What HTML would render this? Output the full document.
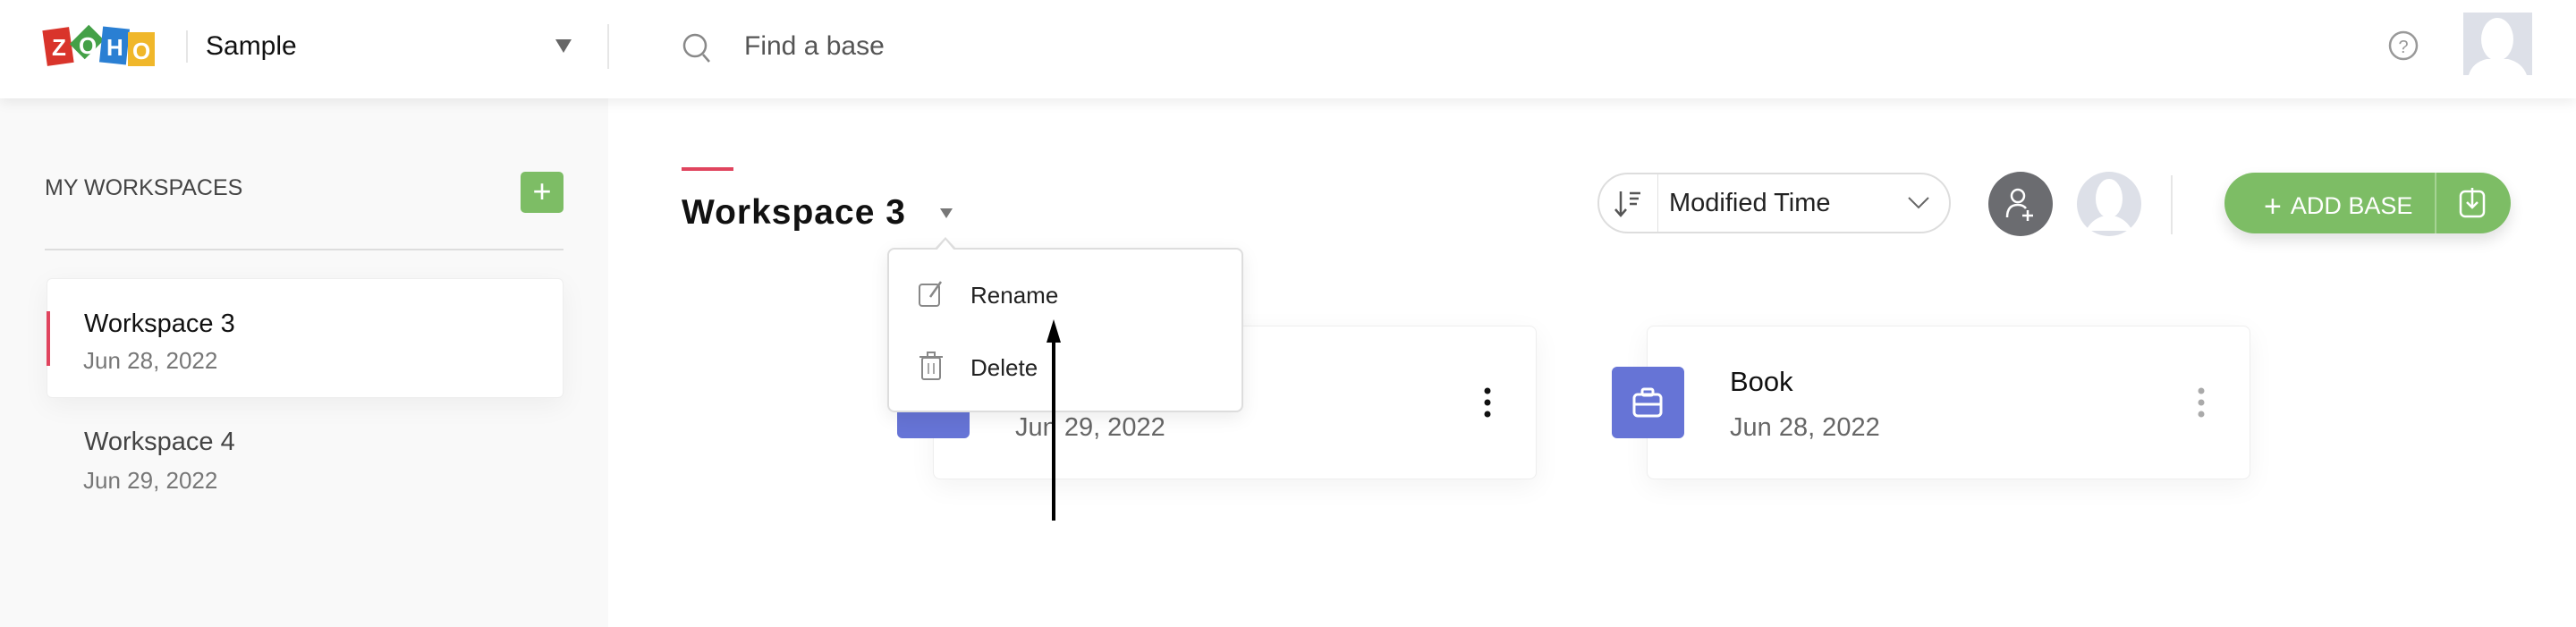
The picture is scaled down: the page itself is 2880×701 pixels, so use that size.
<!DOCTYPE html>
<html><head><meta charset="utf-8"><style>
*{margin:0;padding:0;box-sizing:border-box}
body{width:2880px;height:701px;overflow:hidden;background:#fff;font-family:"Liberation Sans",sans-serif;position:relative}
.a{position:absolute}
.hdr{left:0;top:0;width:2880px;height:110px;background:#fff;box-shadow:0 4px 14px rgba(0,0,0,.08);z-index:5}
.side{left:0;top:110px;width:680px;height:591px;background:#f9f9f9}
.card{background:#fff;border:1px solid #eee;border-radius:8px;box-shadow:0 8px 30px rgba(0,0,0,.05)}
.t{white-space:nowrap;line-height:1}
</style></head><body>
<div class="a hdr">
  <div class="a" style="left:50px;top:32px;width:30px;height:40px;background:#d9342b;transform:rotate(-8deg)"></div>
  <div class="a" style="left:82px;top:28px;width:30px;height:38px;background:#44a047;transform:rotate(45deg) scale(.8)"></div>
  <div class="a" style="left:113px;top:31px;width:30px;height:40px;background:#2a7fd3;transform:rotate(6deg)"></div>
  <div class="a" style="left:143px;top:36px;width:30px;height:38px;background:#f0b72a"></div>
  <div class="a t" style="left:58px;top:40px;color:#fff;font-weight:bold;font-size:26px">Z</div>
  <div class="a t" style="left:88px;top:38px;color:#fff;font-weight:bold;font-size:26px">O</div>
  <div class="a t" style="left:119px;top:40px;color:#fff;font-weight:bold;font-size:26px">H</div>
  <div class="a t" style="left:148px;top:44px;color:#fff;font-weight:bold;font-size:26px">O</div>
  <div class="a" style="left:208px;top:34px;width:2px;height:36px;background:#e6e6e6"></div>
  <div class="a t" style="left:230px;top:37px;font-size:30px;color:#111">Sample</div>
  <div class="a" style="left:621px;top:44px;border-left:9px solid transparent;border-right:9px solid transparent;border-top:15px solid #666"></div>
  <div class="a" style="left:679px;top:27px;width:2px;height:50px;background:#e6e6e6"></div>
  <svg class="a" style="left:762px;top:34px" width="34" height="38"><circle cx="15" cy="17" r="12" fill="none" stroke="#888" stroke-width="2.5"/><line x1="24" y1="27" x2="31" y2="35" stroke="#888" stroke-width="2.5"/></svg>
  <div class="a t" style="left:832px;top:37px;font-size:30px;color:#555">Find a base</div>
  <svg class="a" style="left:2669px;top:33px" width="36" height="36"><circle cx="18" cy="18" r="15" fill="none" stroke="#999" stroke-width="2.5"/><text x="18" y="26" text-anchor="middle" font-size="20" fill="#999" font-family="Liberation Sans">?</text></svg>
  <svg class="a" style="left:2754px;top:14px" width="77" height="70"><rect width="77" height="70" fill="#dde0e8"/><ellipse cx="38" cy="30" rx="18" ry="24" fill="#fff"/><path d="M6 70 Q10 56 26 52 L50 52 Q66 56 71 70Z" fill="#fff"/></svg>
</div>
<div class="a side"></div>
<div class="a t" style="left:50px;top:198px;font-size:25px;color:#444">MY WORKSPACES</div>
<div class="a" style="left:582px;top:192px;width:48px;height:46px;background:#7dbd65;border-radius:5px;color:#fff;font-size:36px;text-align:center;line-height:44px">+</div>
<div class="a" style="left:50px;top:278px;width:580px;height:2px;background:#ddd"></div>
<div class="a card" style="left:52px;top:311px;width:578px;height:134px;border-radius:6px"></div>
<div class="a" style="left:52px;top:348px;width:4px;height:61px;background:#e0445e"></div>
<div class="a t" style="left:94px;top:348px;font-size:29px;color:#111">Workspace 3</div>
<div class="a t" style="left:93px;top:390px;font-size:26px;color:#777">Jun 28, 2022</div>
<div class="a t" style="left:94px;top:480px;font-size:29px;color:#444">Workspace 4</div>
<div class="a t" style="left:93px;top:524px;font-size:26px;color:#777">Jun 29, 2022</div>

<div class="a" style="left:762px;top:187px;width:58px;height:4px;background:#e0445e"></div>
<div class="a t" style="left:762px;top:218px;font-size:39px;font-weight:bold;color:#111;letter-spacing:1px">Workspace 3</div>
<div class="a" style="left:1051px;top:233px;border-left:7px solid transparent;border-right:7px solid transparent;border-top:11px solid #777"></div>

<div class="a card" style="left:1043px;top:364px;width:675px;height:172px"></div>
<div class="a" style="left:1003px;top:410px;width:81px;height:80px;background:#6674d6;border-radius:6px"></div>
<div class="a t" style="left:1135px;top:464px;font-size:29px;color:#666">Jun 29, 2022</div>
<svg class="a" style="left:1656px;top:432px" width="14" height="36"><circle cx="7" cy="5" r="3.5" fill="#111"/><circle cx="7" cy="18" r="3.5" fill="#111"/><circle cx="7" cy="31" r="3.5" fill="#111"/></svg>

<div class="a card" style="left:1841px;top:364px;width:675px;height:172px"></div>
<div class="a" style="left:1802px;top:410px;width:81px;height:80px;background:#6674d6;border-radius:6px"></div>
<svg class="a" style="left:1824px;top:432px" width="36" height="36"><rect x="3" y="9" width="30" height="24" rx="4" fill="none" stroke="#fff" stroke-width="3"/><rect x="12" y="3" width="12" height="7" rx="2" fill="none" stroke="#fff" stroke-width="3"/><line x1="3" y1="20" x2="33" y2="20" stroke="#fff" stroke-width="3"/></svg>
<div class="a t" style="left:1934px;top:411px;font-size:31px;color:#111">Book</div>
<div class="a t" style="left:1934px;top:464px;font-size:29px;color:#666">Jun 28, 2022</div>
<svg class="a" style="left:2454px;top:432px" width="14" height="36"><circle cx="7" cy="5" r="3.5" fill="#aaa"/><circle cx="7" cy="18" r="3.5" fill="#aaa"/><circle cx="7" cy="31" r="3.5" fill="#aaa"/></svg>

<div class="a" style="left:992px;top:277px;width:398px;height:184px;background:#fff;border:2px solid #ddd;border-radius:8px;box-shadow:0 6px 20px rgba(0,0,0,.08)"></div>
<div class="a" style="left:1045px;top:265px;width:0;height:0;border-left:12px solid transparent;border-right:12px solid transparent;border-bottom:13px solid #ddd"></div>
<div class="a" style="left:1047px;top:268px;width:0;height:0;border-left:10px solid transparent;border-right:10px solid transparent;border-bottom:12px solid #fff"></div>
<svg class="a" style="left:1026px;top:312px" width="30" height="32"><rect x="2" y="6" width="22" height="24" rx="3" fill="none" stroke="#888" stroke-width="2"/><path d="M14 20 L26 3" stroke="#888" stroke-width="2.5"/></svg>
<div class="a t" style="left:1085px;top:317px;font-size:26px;color:#222">Rename</div>
<svg class="a" style="left:1027px;top:392px" width="28" height="34"><rect x="4" y="8" width="20" height="24" rx="2" fill="none" stroke="#888" stroke-width="2"/><line x1="1" y1="7" x2="27" y2="7" stroke="#888" stroke-width="2"/><rect x="10" y="2" width="8" height="5" fill="none" stroke="#888" stroke-width="2"/><line x1="11" y1="14" x2="11" y2="26" stroke="#888" stroke-width="1.5"/><line x1="17" y1="14" x2="17" y2="26" stroke="#888" stroke-width="1.5"/></svg>
<div class="a t" style="left:1085px;top:398px;font-size:26px;color:#222">Delete</div>

<svg class="a" style="left:1165px;top:355px" width="30" height="230"><line x1="13" y1="22" x2="13" y2="227" stroke="#000" stroke-width="4"/><polygon points="13,2 5,28 21,28" fill="#000"/></svg>

<div class="a" style="left:1786px;top:193px;width:395px;height:68px;border:2px solid #ddd;border-radius:34px;background:#fff"></div>
<div class="a" style="left:1853px;top:195px;width:1px;height:64px;background:#e2e2e2"></div>
<svg class="a" style="left:1804px;top:210px" width="34" height="34"><line x1="8" y1="4" x2="8" y2="30" stroke="#555" stroke-width="2.5"/><path d="M2 24 L8 31 L14 24" fill="none" stroke="#555" stroke-width="2.5"/><line x1="18" y1="6" x2="30" y2="6" stroke="#555" stroke-width="2.5"/><line x1="18" y1="12" x2="28" y2="12" stroke="#555" stroke-width="2.5"/><line x1="18" y1="18" x2="26" y2="18" stroke="#555" stroke-width="2.5"/></svg>
<div class="a t" style="left:1866px;top:213px;font-size:29px;color:#222">Modified Time</div>
<svg class="a" style="left:2132px;top:218px" width="26" height="18"><path d="M2 3 L13 14 L24 3" fill="none" stroke="#666" stroke-width="2"/></svg>
<div class="a" style="left:2223px;top:192px;width:72px;height:72px;border-radius:50%;background:#6b6c70"></div>
<svg class="a" style="left:2240px;top:208px" width="40" height="40"><circle cx="16" cy="11" r="7" fill="none" stroke="#fff" stroke-width="2.5"/><path d="M4 35 Q4 21 16 21 Q22 21 25 25" fill="none" stroke="#fff" stroke-width="2.5"/><line x1="27" y1="27" x2="27" y2="39" stroke="#fff" stroke-width="2.5"/><line x1="21" y1="33" x2="33" y2="33" stroke="#fff" stroke-width="2.5"/></svg>
<svg class="a" style="left:2322px;top:192px" width="72" height="72"><circle cx="36" cy="36" r="36" fill="#dde0e8"/><ellipse cx="36" cy="30" rx="15" ry="22" fill="#fff"/><path d="M10 66 Q16 54 28 50 L44 50 Q56 54 62 66Z" fill="#fff"/></svg>
<div class="a" style="left:2427px;top:196px;width:2px;height:66px;background:#e6e6e6"></div>
<div class="a" style="left:2487px;top:193px;width:320px;height:68px;border-radius:34px;background:#7dbd65;box-shadow:0 8px 16px rgba(0,0,0,.12)"></div>
<div class="a" style="left:2722px;top:193px;width:2px;height:68px;background:#a6d394"></div>
<div class="a t" style="left:2531px;top:214px;font-size:27px;color:#fff"><span style="font-size:34px;vertical-align:-3px;margin-right:10px">+</span>ADD BASE</div>
<svg class="a" style="left:2748px;top:208px" width="32" height="38"><rect x="3" y="6" width="26" height="28" rx="5" fill="none" stroke="#fff" stroke-width="2.5"/><line x1="16" y1="2" x2="16" y2="24" stroke="#fff" stroke-width="2.5"/><path d="M10 18 L16 24 L22 18" fill="none" stroke="#fff" stroke-width="2.5"/></svg>
</body></html>
